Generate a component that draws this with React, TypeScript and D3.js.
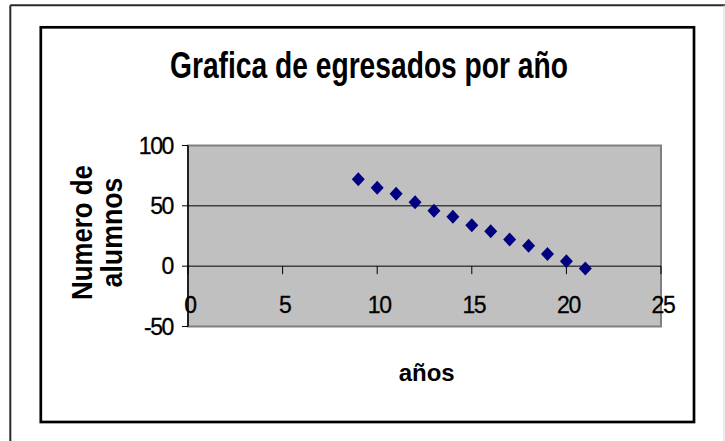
import * as d3 from "d3";
import React, { useEffect, useRef } from "react";

const years = [9, 10, 11, 12, 13, 14, 15, 16, 17, 18, 19, 20, 21];
const alumnos = [72, 65, 60, 53, 46, 41, 34, 29, 22, 17, 10, 4, -2];
const xTicks = [0, 5, 10, 15, 20, 25];
const yTicks = [-50, 0, 50, 100];
const gridValues = [50];

const title = "Grafica de egresados por año";
const yTitleLines = ["Numero de", "alumnos"];
const xTitle = "años";

const App = () => {
  const ref = useRef(null);

  const font = "'Liberation Sans', Arial, sans-serif";
  const colorNavy = "#000080";
  const colorPlot = "#c0c0c0";

  useEffect(() => {
    const root = d3.select(ref.current);
    root.selectAll("*").remove();

    const svg = root
      .append("svg")
      .attr("width", 725)
      .attr("height", 441)
      .style("position", "absolute")
      .style("left", 0)
      .style("top", 0)
      .style("background", "#fff");

    // page frame (outer) and chart frame (inner)
    svg.append("line").attr("x1", 10.3).attr("x2", 725).attr("y1", 5.3).attr("y2", 5.3)
      .attr("stroke", "#2a2a2a").attr("stroke-width", 2);
    svg.append("line").attr("x1", 10.3).attr("x2", 10.3).attr("y1", 5.3).attr("y2", 441)
      .attr("stroke", "#2a2a2a").attr("stroke-width", 2);
    svg.append("line").attr("x1", 724).attr("x2", 724).attr("y1", 5.3).attr("y2", 441)
      .attr("stroke", "#d8d8d8").attr("stroke-width", 1);

    svg.append("rect")
      .attr("x", 40.8).attr("y", 27.3).attr("width", 653.2).attr("height", 394.7)
      .attr("fill", "none").attr("stroke", "#000").attr("stroke-width", 2.7);

    const x = d3.scaleLinear().domain([0, 25]).range([188, 661]);
    const y = d3.scaleLinear().domain([-50, 100]).range([326.5, 145.5]);

    // plot area
    svg.append("rect")
      .attr("x", x(0)).attr("y", y(100))
      .attr("width", x(25) - x(0)).attr("height", y(-50) - y(100))
      .attr("fill", colorPlot).attr("stroke", "#808080").attr("stroke-width", 2);

    // gridlines
    svg.selectAll(".grid").data(gridValues).enter().append("line")
      .attr("x1", x(0)).attr("x2", x(25))
      .attr("y1", (d) => y(d)).attr("y2", (d) => y(d))
      .attr("stroke", "#000").attr("stroke-width", 1);

    // y axis
    svg.append("line").attr("x1", x(0)).attr("x2", x(0)).attr("y1", y(100)).attr("y2", y(-50))
      .attr("stroke", "#000").attr("stroke-width", 1.5);
    svg.selectAll(".ytick").data(yTicks).enter().append("line")
      .attr("x1", x(0) - 6).attr("x2", x(0))
      .attr("y1", (d) => y(d)).attr("y2", (d) => y(d))
      .attr("stroke", "#000").attr("stroke-width", 1);
    svg.selectAll(".ylabel").data(yTicks).enter().append("text")
      .attr("x", 173).attr("y", (d) => y(d) + 8.2)
      .attr("text-anchor", "end")
      .attr("font-family", font).attr("font-size", 23).attr("letter-spacing", -1.4)
      .attr("fill", "#000").attr("stroke", "#000").attr("stroke-width", 0.3)
      .text((d) => d);

    // x axis at zero
    svg.append("line").attr("x1", x(0)).attr("x2", x(25)).attr("y1", y(0)).attr("y2", y(0))
      .attr("stroke", "#000").attr("stroke-width", 1);
    svg.selectAll(".xtick").data(xTicks).enter().append("line")
      .attr("x1", (d) => x(d)).attr("x2", (d) => x(d))
      .attr("y1", y(0)).attr("y2", y(0) + 8)
      .attr("stroke", "#000").attr("stroke-width", 1);
    svg.selectAll(".xlabel").data(xTicks).enter().append("text")
      .attr("x", (d) => x(d) + 2).attr("y", y(0) + 47)
      .attr("text-anchor", "middle")
      .attr("font-family", font).attr("font-size", 23).attr("letter-spacing", -1.4)
      .attr("fill", "#000").attr("stroke", "#000").attr("stroke-width", 0.3)
      .text((d) => d);

    // diamonds
    const diamond = (cx, cy) =>
      `M${cx},${cy - 7} L${cx + 6.5},${cy} L${cx},${cy + 7} L${cx - 6.5},${cy} Z`;
    svg.selectAll(".pt").data(years).enter().append("path")
      .attr("d", (d, i) => diamond(x(d), y(alumnos[i])))
      .attr("fill", colorNavy);

    // titles
    svg.append("text")
      .attr("x", 170).attr("y", 78.3)
      .attr("font-family", font).attr("font-size", 37).attr("font-weight", "bold")
      .attr("textLength", 398).attr("lengthAdjust", "spacingAndGlyphs")
      .attr("fill", "#000")
      .text(title);

    svg.append("text")
      .attr("x", 426.7).attr("y", 380.7)
      .attr("text-anchor", "middle")
      .attr("font-family", font).attr("font-size", 24).attr("font-weight", "bold")
      .attr("fill", "#000")
      .text(xTitle);

    const yLens = [135, 110];
    yTitleLines.forEach((line, i) => {
      svg.append("text")
        .attr("transform", `translate(${91.7 + i * 30}, 232.5) rotate(-90)`)
        .attr("x", -yLens[i] / 2).attr("y", 0)
        .attr("font-family", font).attr("font-size", 30).attr("font-weight", "bold")
        .attr("textLength", yLens[i]).attr("lengthAdjust", "spacingAndGlyphs")
        .attr("fill", "#000")
        .text(line);
    });
  }, []);

  return <div ref={ref} />;
};

export default App;
